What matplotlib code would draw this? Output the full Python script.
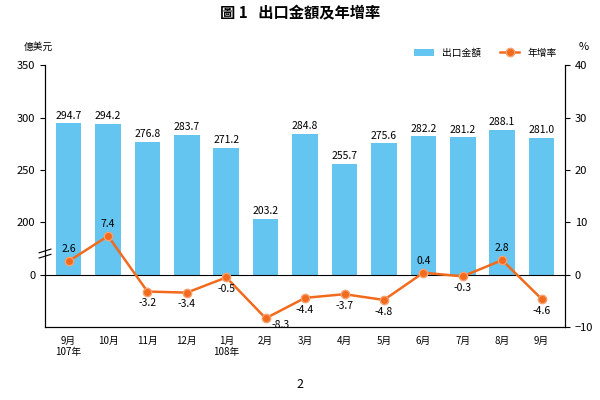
import matplotlib
matplotlib.use("Agg")
import matplotlib.pyplot as plt
import numpy as np

plt.rcParams['font.family'] = ['Noto Sans CJK TC']

months = ["9月\n107年", "10月", "11月", "12月", "1月\n108年", "2月", "3月", "4月", "5月", "6月", "7月", "8月", "9月"]
exports = [294.7, 294.2, 276.8, 283.7, 271.2, 203.2, 284.8, 255.7, 275.6, 282.2, 281.2, 288.1, 281.0]
growth = [2.6, 7.4, -3.2, -3.4, -0.5, -8.3, -4.4, -3.7, -4.8, 0.4, -0.3, 2.8, -4.6]
left_ticks = [0, 200, 250, 300, 350]

def to_disp(v):
    return 0 if v == 0 else (v - 150) / 5.0

fig = plt.figure(figsize=(6, 4), dpi=100)
ax = fig.add_axes([0.075, 0.182, 0.867, 0.655])
x = np.arange(len(months))
bh = [to_disp(v) for v in exports]
bars = ax.bar(x, bh, width=0.65, color='#63C5F0', label='出口金額', zorder=2)
for xi, h, v in zip(x, bh, exports):
    ax.text(xi, h + 0.5, f"{v:.1f}", ha='center', va='bottom', fontsize=7.5, zorder=4,
            bbox=dict(facecolor='white', edgecolor='none', pad=0.5))
line, = ax.plot(x, growth, color='#F26B1D', lw=1.8, marker='o', ms=6, mfc='#F26B1D', mec='#F7A070',
                label='年增率', zorder=3)
for i, (xi, g) in enumerate(zip(x, growth)):
    if i == 5:
        ax.text(xi + 0.15, g - 0.3, f"{g:.1f}", ha='left', va='top', fontsize=7.5, zorder=4)
        continue
    dy = 1.3 if g >= 0 else -1.3
    ax.text(xi, g + dy, f"{g:.1f}", ha='center', va='bottom' if g >= 0 else 'top', fontsize=7.5, zorder=4)
ax.axhline(0, color='black', lw=0.8, zorder=2)
ax.set_ylim(-10, 40)
ax.set_xlim(-0.6, len(months) - 0.4)
ax.set_yticks([to_disp(v) for v in left_ticks])
ax.set_yticklabels([str(v) for v in left_ticks], fontsize=8)
ax2 = ax.twinx()
ax2.set_ylim(-10, 40)
ax2.set_yticks([-10, 0, 10, 20, 30, 40])
ax2.tick_params(labelsize=8)
ax.set_xticks(x)
ax.set_xticklabels(months, fontsize=7, va='top')
ax.tick_params(axis='x', length=0, pad=6)
for a in (ax, ax2):
    a.spines['top'].set_visible(False)
ax.plot([-0.75, -0.45], [4.2, 4.9], color='black', lw=0.8, clip_on=False)
ax.plot([-0.75, -0.45], [3.2, 3.9], color='black', lw=0.8, clip_on=False)
ax.legend([bars, line], ['出口金額', '年增率'], loc='upper right', bbox_to_anchor=(1.0, 1.1),
          ncol=2, frameon=False, fontsize=7, handlelength=2)
fig.text(0.5, 0.955, "圖 1   出口金額及年增率", ha='center', fontsize=11, weight='bold')
fig.text(0.04, 0.875, "億美元", fontsize=7)
fig.text(0.965, 0.875, "%", fontsize=8)
fig.text(0.5, 0.03, "2", fontsize=9, ha='center')
fig.savefig("out.png", dpi=100)
